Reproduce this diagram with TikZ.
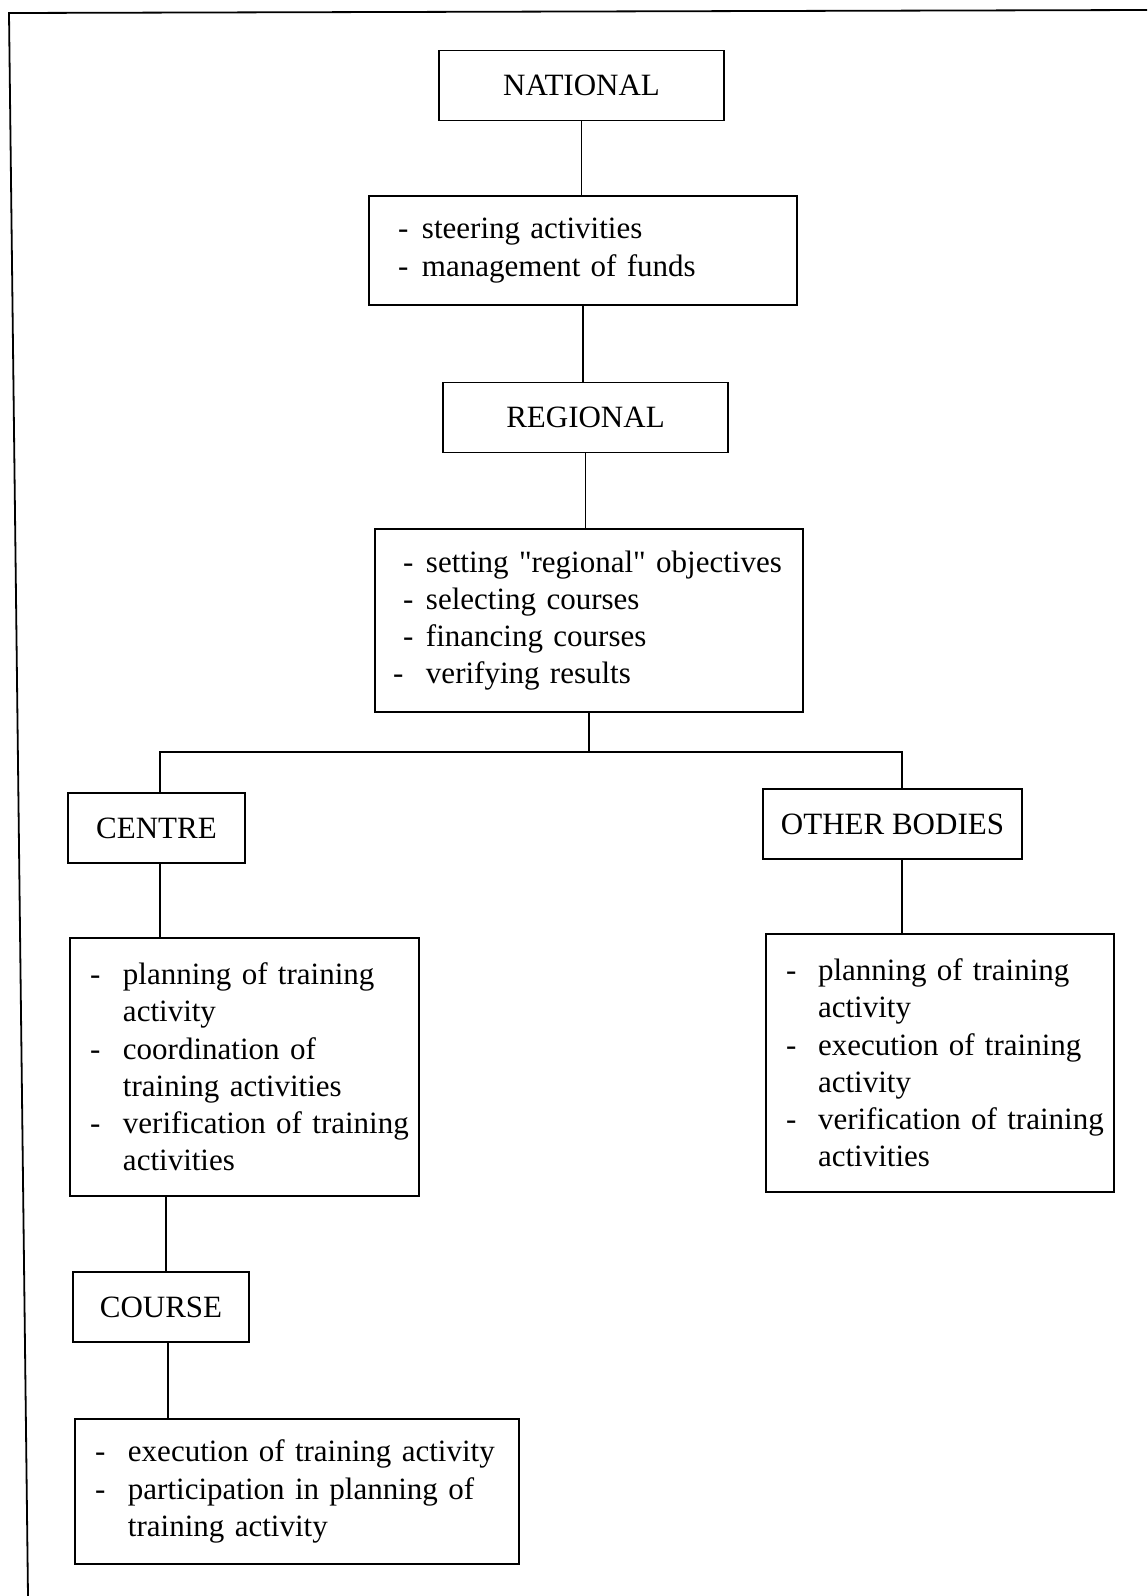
\documentclass[tikz,border=0pt]{standalone}
\usepackage{fontspec}
\setmainfont{Liberation Serif}
\usetikzlibrary{positioning}
\tikzset{%
  LevelBox/.style={draw,line width=0.9pt,minimum height=35pt,inner sep=0pt,font=\fontsize{15.5}{18.6}\selectfont},
  TaskBox/.style={draw,line width=0.9pt,inner ysep=0pt,align=left,font=\fontsize{15.5}{18.6}\selectfont}
}
\newcommand{\itm}[2][16.5pt]{\mbox{\makebox[#1][l]{-}#2}}
\newcommand{\cnt}[2][16.5pt]{\mbox{\hspace*{#1}#2}}

\begin{document}
\begin{tikzpicture}[x=0.5pt,y=-0.5pt]
\useasboundingbox (0,0) rectangle (1147,1596);

% frame
\draw [line width=0.9pt] (1147,10) -- (9,13) -- (28,1596);

\node (nat) [LevelBox,minimum width=142.5pt] at (581.5,85.5) {NATIONAL};
\node (steer) [TaskBox,inner xsep=14.5pt,text width=185pt,minimum height=54.5pt] at (583,250.5)
  {\itm[12pt]{steering activities}\\ \itm[12pt]{management of funds}};
\node (reg) [LevelBox,minimum width=142.5pt] at (585.5,417.5) {REGIONAL};
\node (regtasks) [TaskBox,inner xsep=14pt,text width=186pt,minimum height=91.5pt] at (589,620.5)
  {\itm[11.5pt]{setting \textquotedbl regional\textquotedbl{} objectives}\\ \itm[11.5pt]{selecting courses}\\
   \itm[11.5pt]{financing courses}\\ \hspace*{-5pt}\itm{verifying results}};

\node (cen) [LevelBox,minimum width=88.5pt] at (156.5,828) {CENTRE};
\node (oth) [LevelBox,minimum width=129.5pt] at (892.5,824) {OTHER BODIES};

\node (centasks) [TaskBox,inner xsep=10pt,text width=154.5pt,minimum height=129pt] at (244.5,1067)
  {\itm{planning of training}\\ \cnt{activity}\\ \itm{coordination of}\\
   \cnt{training activities}\\ \itm{verification of training}\\ \cnt{activities}};
\node (othtasks) [TaskBox,inner xsep=10pt,text width=154pt,minimum height=129pt] at (940,1063)
  {\itm[16pt]{planning of training}\\ \cnt[16pt]{activity}\\ \itm[16pt]{execution of training}\\
   \cnt[16pt]{activity}\\ \itm[16pt]{verification of training}\\ \cnt[16pt]{activities}};

\node (course) [LevelBox,minimum width=88pt] at (161,1307) {COURSE};
\node (coutasks) [TaskBox,inner xsep=10pt,text width=202pt,minimum height=72.5pt] at (297,1491.5)
  {\itm{execution of training activity}\\ \itm{participation in planning of}\\ \cnt{training activity}};

\coordinate (barL) at (160,752);
\coordinate (barR) at (902,752);

\draw [line width=0.9pt] (nat.south) -- (nat.south |- steer.north);
\draw [line width=0.9pt] (steer.south) -- (steer.south |- reg.north);
\draw [line width=0.9pt] (reg.south) -- (reg.south |- regtasks.north);
\draw [line width=0.9pt] (regtasks.south) -- (regtasks.south |- barL);
\draw [line width=0.9pt] (barL |- cen.north) -- (barL) -- (barR) -- (barR |- oth.north);
\draw [line width=0.9pt] (barL |- cen.south) -- (barL |- centasks.north);
\draw [line width=0.9pt] (barR |- oth.south) -- (barR |- othtasks.north);
\draw [line width=0.9pt] ([xshift=2.5pt]course.north) -- ([xshift=2.5pt]course.north |- centasks.south);
\draw [line width=0.9pt] ([xshift=3.5pt]course.south) -- ([xshift=3.5pt]course.south |- coutasks.north);
\end{tikzpicture}
\end{document}
